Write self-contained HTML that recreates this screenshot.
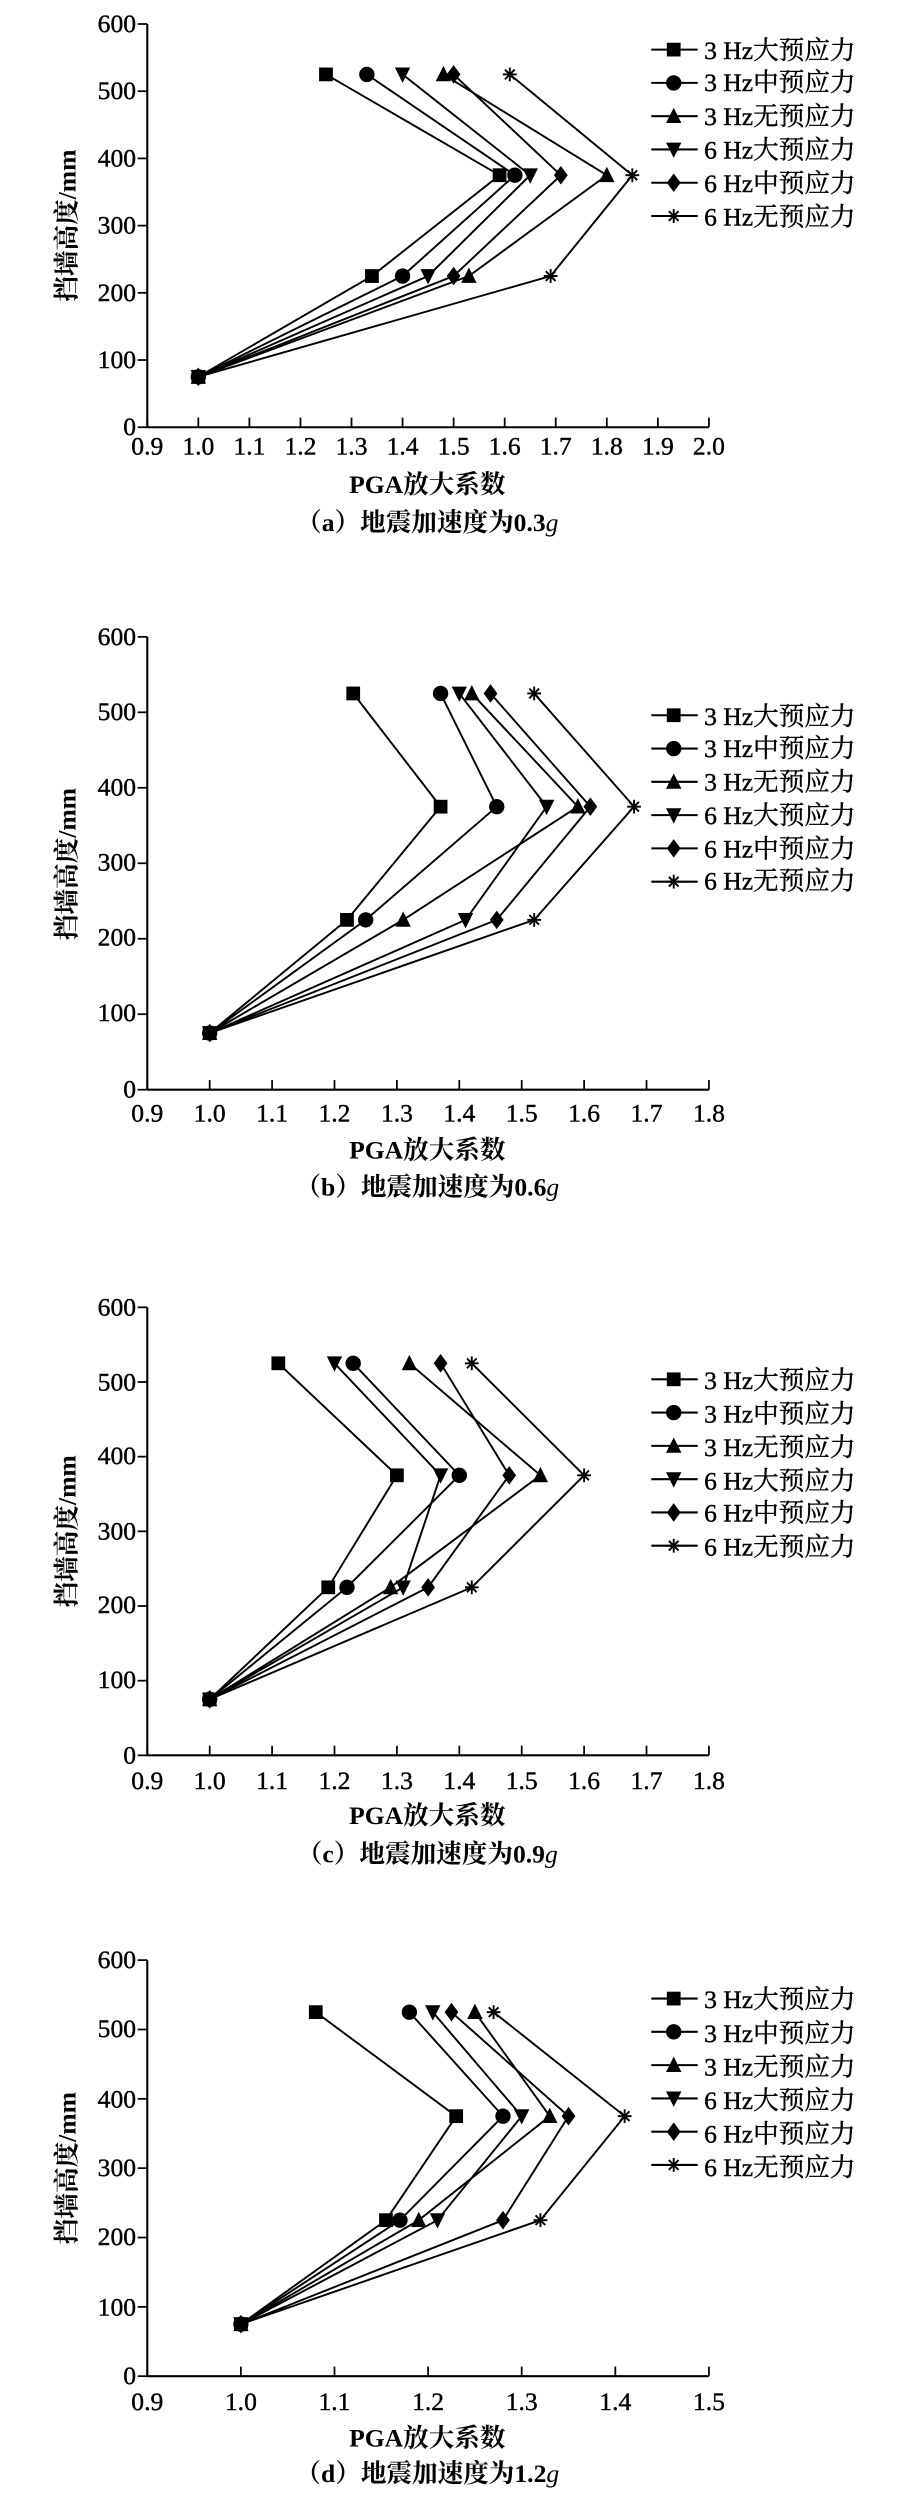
<!DOCTYPE html>
<html><head><meta charset="utf-8"><style>
html,body{margin:0;padding:0;background:#fff}
svg{display:block}
text{font-family:"Liberation Serif","Noto Serif CJK SC",serif;fill:#000}
.m{stroke:#000;stroke-width:0.25}
</style></head><body>
<svg id="s" width="917" height="2517" viewBox="0 0 573 1573" xmlns="http://www.w3.org/2000/svg">
<g id="g"></g>
<g font-size="16" text-anchor="end" class="m">
<text x="85" y="20">600</text><text x="85" y="62">500</text><text x="85" y="104">400</text><text x="85" y="146">300</text><text x="85" y="188">200</text><text x="85" y="230">100</text><text x="85" y="272">0</text>
<text x="85" y="403">600</text><text x="85" y="450">500</text><text x="85" y="497">400</text><text x="85" y="544">300</text><text x="85" y="591">200</text><text x="85" y="638">100</text><text x="85" y="686">0</text>
<text x="85" y="822">600</text><text x="85" y="869">500</text><text x="85" y="915">400</text><text x="85" y="962">300</text><text x="85" y="1008">200</text><text x="85" y="1055">100</text><text x="85" y="1102">0</text>
<text x="85" y="1230">600</text><text x="85" y="1273">500</text><text x="85" y="1317">400</text><text x="85" y="1360">300</text><text x="85" y="1403">200</text><text x="85" y="1447">100</text><text x="85" y="1490">0</text>
</g>
<g font-size="16" text-anchor="middle" id="xt" class="m"></g>
<g font-size="16" class="m">
<text x="440" y="37">3 Hz大预应力</text><text x="440" y="57">3 Hz中预应力</text><text x="440" y="78">3 Hz无预应力</text><text x="440" y="99">6 Hz大预应力</text><text x="440" y="120">6 Hz中预应力</text><text x="440" y="141">6 Hz无预应力</text>
<text x="440" y="453">3 Hz大预应力</text><text x="440" y="473">3 Hz中预应力</text><text x="440" y="494">3 Hz无预应力</text><text x="440" y="515">6 Hz大预应力</text><text x="440" y="536">6 Hz中预应力</text><text x="440" y="556">6 Hz无预应力</text>
<text x="440" y="868">3 Hz大预应力</text><text x="440" y="889">3 Hz中预应力</text><text x="440" y="910">3 Hz无预应力</text><text x="440" y="931">6 Hz大预应力</text><text x="440" y="951">6 Hz中预应力</text><text x="440" y="972">6 Hz无预应力</text>
<text x="440" y="1255">3 Hz大预应力</text><text x="440" y="1276">3 Hz中预应力</text><text x="440" y="1297">3 Hz无预应力</text><text x="440" y="1318">6 Hz大预应力</text><text x="440" y="1339">6 Hz中预应力</text><text x="440" y="1360">6 Hz无预应力</text>
</g>
<g font-size="16" text-anchor="middle" font-weight="bold">
<text transform="translate(47,141) rotate(-90)">挡墙高度/mm</text>
<text transform="translate(47,540) rotate(-90)">挡墙高度/mm</text>
<text transform="translate(47,957) rotate(-90)">挡墙高度/mm</text>
<text transform="translate(47,1355) rotate(-90)">挡墙高度/mm</text>
<text x="267" y="308">PGA放大系数</text>
<text x="267" y="724">PGA放大系数</text>
<text x="267" y="1140">PGA放大系数</text>
<text x="267" y="1529">PGA放大系数</text>
<text x="267" y="332">（a）地震加速度为0.3<tspan font-style="italic" font-weight="normal">g</tspan></text>
<text x="267" y="747">（b）地震加速度为0.6<tspan font-style="italic" font-weight="normal">g</tspan></text>
<text x="267" y="1164">（c）地震加速度为0.9<tspan font-style="italic" font-weight="normal">g</tspan></text>
<text x="267" y="1551">（d）地震加速度为1.2<tspan font-style="italic" font-weight="normal">g</tspan></text>
</g>
</svg>
<script>
var NS="http://www.w3.org/2000/svg",G=document.getElementById("g"),XT=document.getElementById("xt");
function el(t,a,p){var e=document.createElementNS(NS,t);for(var k in a)e.setAttribute(k,a[k]);(p||G).appendChild(e);return e;}
function mk(type,x,y){
 var s=4.3;
 if(type==0)el("rect",{x:x-s,y:y-s,width:2*s,height:2*s,fill:"#000"});
 else if(type==1)el("circle",{cx:x,cy:y,r:s+0.5,fill:"#000"});
 else if(type==2)el("polygon",{points:(x)+","+(y-s-1)+" "+(x+s+0.5)+","+(y+s)+" "+(x-s-0.5)+","+(y+s),fill:"#000"});
 else if(type==3)el("polygon",{points:(x)+","+(y+s+1)+" "+(x+s+0.5)+","+(y-s)+" "+(x-s-0.5)+","+(y-s),fill:"#000"});
 else if(type==4)el("polygon",{points:x+","+(y-s-1.5)+" "+(x+s)+","+y+" "+x+","+(y+s+1.5)+" "+(x-s)+","+y,fill:"#000"});
 else {for(var i=0;i<4;i++){var a=i*Math.PI/4;el("line",{x1:x-s*Math.cos(a),y1:y-s*Math.sin(a),x2:x+s*Math.cos(a),y2:y+s*Math.sin(a),stroke:"#000","stroke-width":1.2});}}
}
var P=[
 {top:15,bot:267,xmax:2.0,leg:31,lx:284,d:[[1,1.34,1.59,1.25],[1,1.40,1.62,1.33],[1,1.53,1.80,1.48],[1,1.45,1.65,1.40],[1,1.50,1.71,1.50],[1,1.69,1.85,1.61]]},
 {top:398,bot:681,xmax:1.8,leg:447,lx:701,d:[[1,1.22,1.37,1.23],[1,1.25,1.46,1.37],[1,1.31,1.59,1.42],[1,1.41,1.54,1.40],[1,1.46,1.61,1.45],[1,1.52,1.68,1.52]]},
 {top:817,bot:1097,xmax:1.8,leg:862,lx:1118,d:[[1,1.19,1.30,1.11],[1,1.22,1.40,1.23],[1,1.29,1.53,1.32],[1,1.31,1.37,1.20],[1,1.35,1.48,1.37],[1,1.42,1.60,1.42]]},
 {top:1225,bot:1485,xmax:1.5,leg:1249,lx:1506,d:[[1,1.155,1.23,1.08],[1,1.17,1.28,1.18],[1,1.19,1.33,1.25],[1,1.21,1.30,1.205],[1,1.28,1.35,1.225],[1,1.32,1.41,1.27]]}
];
var H=[75,225,375,525];
P.forEach(function(p){
 var x0=92,x1=443;
 function X(v){return x0+(v-0.9)/(p.xmax-0.9)*(x1-x0);}
 function Y(h){return p.bot-h/600*(p.bot-p.top);}
 el("line",{x1:x0,y1:p.top,x2:x0,y2:p.bot,stroke:"#000","stroke-width":1.3});
 el("line",{x1:x0,y1:p.bot,x2:x1,y2:p.bot,stroke:"#000","stroke-width":1.3});
 for(var h=0;h<=600;h+=100)el("line",{x1:x0-6,y1:Y(h),x2:x0,y2:Y(h),stroke:"#000","stroke-width":1.1});
 for(var v=0.9;v<=p.xmax+0.001;v+=0.1){var xx=X(v);el("line",{x1:xx,y1:p.bot-6,x2:xx,y2:p.bot,stroke:"#000","stroke-width":1.1});
  var t=el("text",{x:xx,y:p.lx},XT);t.textContent=v.toFixed(1);}
 p.d.forEach(function(s,i){
  var pts=s.map(function(v,j){return X(v)+","+Y(H[j]);}).join(" ");
  el("polyline",{points:pts,fill:"none",stroke:"#000","stroke-width":1.2});
  s.forEach(function(v,j){mk(i,X(v),Y(H[j]));});
  var ly=p.leg+i*20.8;
  el("line",{x1:407,y1:ly,x2:436,y2:ly,stroke:"#000","stroke-width":1.3});
  mk(i,421,ly);
 });
});
</script>
</body></html>
